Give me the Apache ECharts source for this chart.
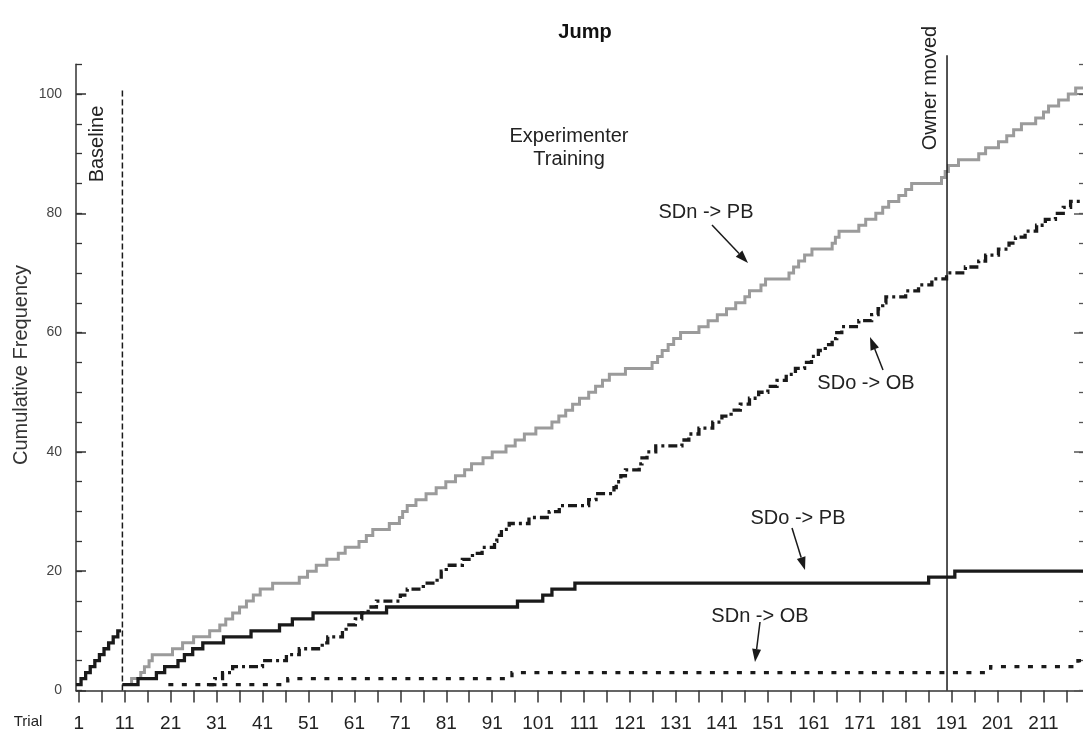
<!DOCTYPE html>
<html>
<head>
<meta charset="utf-8">
<script src="https://cdn.jsdelivr.net/npm/echarts@6/dist/echarts.min.js"></script>
<style>
  html, body { margin: 0; background: #fff; }
  #chart { width: 1083px; height: 738px; }
</style>
</head>
<body>
<div id="chart"></div>
<script>
// Step points: [trial where the count changes, cumulative count]
const baseline = [[0.4,1],[1.5,2],[2.5,3],[3.5,4],[4.5,5],[5.5,6],[6.5,7],[7.5,8],[8.5,9],[9.5,10],[10.2,10]];

const sdnPb = [[10.5,1],[12.5,2],[14.5,3],[15.3,4],[16.3,5],[17,6],[21.4,7],[23.6,8],[26,9],[29.5,10],
  [31.7,11],[33,12],[34.5,13],[36,14],[37.5,15],[39,16],[40.5,17],[43.2,18],[49,19],[50.8,20],
  [52.7,21],[55,22],[57.5,23],[59,24],[62,25],[63.6,26],[65,27],[68.6,28],[70.8,29],[71.5,30],
  [72.5,31],[74.4,32],[76.6,33],[78.8,34],[80.9,35],[83,36],[85,37],[86.5,38],[89,39],[91,40],
  [94,41],[96,42],[98,43],[100.5,44],[104,45],[105.5,46],[107,47],[108.5,48],[110,49],[112,50],
  [113.5,51],[115,52],[116.5,53],[120,54],[125.8,55],[127,56],[128,57],[129.3,58],[130.5,59],[132,60],
  [136,61],[138,62],[140,63],[142,64],[144,65],[146,66],[147,67],[149.5,68],[150.5,69],[155.6,70],
  [156.6,71],[157.7,72],[159,73],[160.6,74],[165,75],[165.7,76],[166.5,77],[170.8,78],[172.3,79],[174.5,80],
  [176,81],[177.3,82],[179.5,83],[181,84],[182.3,85],[188.8,86],[189.6,87],[190.3,88],[192.5,89],[196.9,90],
  [198.4,91],[201.2,92],[203,93],[204.5,94],[206.2,95],[209.3,96],[211,97],[212.1,98],[214.3,99],[216.4,100],
  [218,101],[219.6,101]];

const sdoOb = [[28.9,1],[30.6,2],[32.3,3],[34.5,4],[41,5],[46.2,6],[49,7],[54,8],[55.2,9],
  [58.4,10],[59.2,11],[61.2,12],[62.6,13],[64,14],[65.8,15],[71,16],[72.5,17],[76,18],[79,19],
  [79.9,20],[81,21],[84.5,22],[86.7,23],[88.8,24],[91.5,25],[92,26],[93,27],[94.7,28],[99,29],
  [103.4,30],[105.6,31],[112,32],[113.6,33],[117.5,34],[118,35],[119,36],[120,37],[123,38],[123.6,39],
  [124.7,40],[126.6,41],[132.3,42],[133.8,43],[136,44],[139,45],[141,46],[143,47],[145,48],[147,49],
  [149,50],[151,51],[153,52],[155,53],[157,54],[159,55],[160.5,56],[162,57],[163.5,58],[165,59],
  [166,60],[167.1,61],[170.8,62],[173.6,63],[175,64],[176,65],[176.7,66],[181,67],[183.8,68],[186.7,69],
  [189.9,70],[194,71],[196.9,72],[198.4,73],[201.2,74],[203.5,75],[204.9,76],[207,77],[209.5,78],[211.4,79],
  [213.6,80],[215.3,81],[216.9,82],[219.6,82]];

const sdoPb = [[10.5,1],[13.9,2],[17.9,3],[19.7,4],[22.6,5],[24,6],[25.8,7],[28,8],[32.5,9],[38.5,10],
  [44.7,11],[47.5,12],[52,13],[68,14],[96.5,15],[102,16],[104,17],[109,18],[186,19],[191.7,20],[219.6,20]];

const sdnOb = [[20.5,1],[46.5,2],[95.3,3],[199.5,4],[218.5,5],[219.6,5]];

// phase change lines
const phaseLine = [[10.5,0],[10.5,101]];
const ownerLine = [[190,0],[190,106.5]];

// axis ticks and labels
const xTickTrials = [1,6,11,16,21,26,31,36,41,46,51,56,61,66,71,76,81,86,91,96,101,106,111,116,121,126,
  131,136,141,146,151,156,161,166,171,176,181,186,191,196,201,206,211,216];
const xLabelTrials = [1,11,21,31,41,51,61,71,81,91,101,111,121,131,141,151,161,171,181,191,201,211];
const yLabelValues = [0,20,40,60,80,100];

const FONT = '"Liberation Sans", Arial, Helvetica, sans-serif';
const INK = '#1a1a1a';
const AXIS = '#333';

const chart = echarts.init(document.getElementById('chart'), null, { renderer: 'canvas' });

// arrow shaft + filled head, in pixels
function arrow(x1, y1, x2, y2) {
    const a = Math.atan2(y2 - y1, x2 - x1);
    const L = 13, W = 4.5;
    const bx = x2 - L * Math.cos(a), by = y2 - L * Math.sin(a);
    return [
        { type: 'line', shape: { x1, y1, x2: bx, y2: by }, style: { stroke: INK, lineWidth: 1.5 } },
        {
            type: 'polygon',
            shape: { points: [[x2, y2], [bx + W * Math.sin(a), by - W * Math.cos(a)], [bx - W * Math.sin(a), by + W * Math.cos(a)]] },
            style: { fill: INK },
        },
    ];
}

function label(text, x, y, opts = {}) {
    return {
        type: 'text', x, y, rotation: opts.rotation || 0,
        style: {
            text, fill: opts.fill || '#222', fontSize: opts.size || 20, fontFamily: FONT,
            fontWeight: opts.weight || 'normal', align: 'center', verticalAlign: 'middle',
            lineHeight: opts.lineHeight || 23,
        },
    };
}

const stepLine = (name, data, color, type, width) => ({
    name, type: 'line', data, step: 'end', symbol: 'none', silent: true,
    lineStyle: { color, width, type, cap: 'butt', join: 'miter' },
});

const yBase = { type: 'value', min: 0, max: 105, splitLine: { show: false } };

const option = {
    animation: false,
    backgroundColor: '#fff',
    grid: { left: 76, right: -1, top: 64.2, bottom: 47.5, containLabel: false },
    xAxis: {
        type: 'value', min: 0.4, max: 219.6,
        axisLine: { show: true, lineStyle: { color: AXIS, width: 1.5 } },
        axisTick: { show: true, customValues: xTickTrials, length: 12, inside: false, lineStyle: { color: AXIS, width: 1.5 } },
        axisLabel: { customValues: xLabelTrials, color: '#222', fontSize: 19, fontFamily: FONT, margin: 24 },
        splitLine: { show: false },
    },
    yAxis: [
        {
            ...yBase, position: 'left', interval: 5,
            axisLine: { show: true, lineStyle: { color: AXIS, width: 1.5 } },
            axisTick: { show: true, inside: true, length: 6, lineStyle: { color: AXIS, width: 1.3 } },
            axisLabel: {
                color: '#444', fontSize: 14, fontFamily: FONT, margin: 14,
                formatter: (v) => (yLabelValues.includes(v) ? String(v) : ''),
            },
        },
        {
            ...yBase, position: 'left',
            axisLine: { show: false },
            axisTick: { show: true, inside: true, length: 10, customValues: yLabelValues, lineStyle: { color: AXIS, width: 1.5 } },
            axisLabel: { show: false },
        },
        {
            ...yBase, position: 'right', interval: 5,
            axisLine: { show: false },
            axisTick: { show: true, inside: true, length: 4, lineStyle: { color: '#555', width: 1.3 } },
            axisLabel: { show: false },
        },
        {
            ...yBase, position: 'right',
            axisLine: { show: false },
            axisTick: { show: true, inside: true, length: 9, customValues: yLabelValues, lineStyle: { color: '#555', width: 1.5 } },
            axisLabel: { show: false },
        },
    ],
    series: [
        stepLine('SDn -> PB', sdnPb, '#9b9b9b', 'solid', 3),
        stepLine('SDn -> OB', sdnOb, INK, [5, 8.5], 3.3),
        stepLine('SDo -> OB', sdoOb, INK, [9, 4, 3, 4], 3.3),
        stepLine('SDo -> PB', sdoPb, INK, 'solid', 3.3),
        stepLine('Baseline', baseline, INK, 'solid', 3.3),
        {
            type: 'line', data: phaseLine, symbol: 'none', silent: true,
            lineStyle: { color: INK, width: 1.5, type: [6, 3] },
        },
        {
            type: 'line', data: ownerLine, symbol: 'none', silent: true, clip: false,
            lineStyle: { color: INK, width: 1.5 },
        },
    ],
    graphic: [
        label('Jump', 585, 32, { size: 20, weight: 'bold', fill: '#111' }),
        label('Cumulative Frequency', 21, 365, { rotation: Math.PI / 2, size: 20, fill: '#333' }),
        label('Trial', 28, 722, { size: 15, fill: '#222' }),
        label('Baseline', 97, 144, { rotation: Math.PI / 2 }),
        label('Owner moved', 930, 88, { rotation: Math.PI / 2 }),
        label('Experimenter\nTraining', 569, 148),
        label('SDn -> PB', 706, 212),
        label('SDo -> OB', 866, 383),
        label('SDo -> PB', 798, 518),
        label('SDn -> OB', 760, 616),
        ...arrow(712, 225, 748, 263),
        ...arrow(883, 370, 870, 337),
        ...arrow(792, 528, 805, 570),
        ...arrow(760, 622, 755, 662),
    ],
};

chart.setOption(option);
</script>
</body>
</html>
